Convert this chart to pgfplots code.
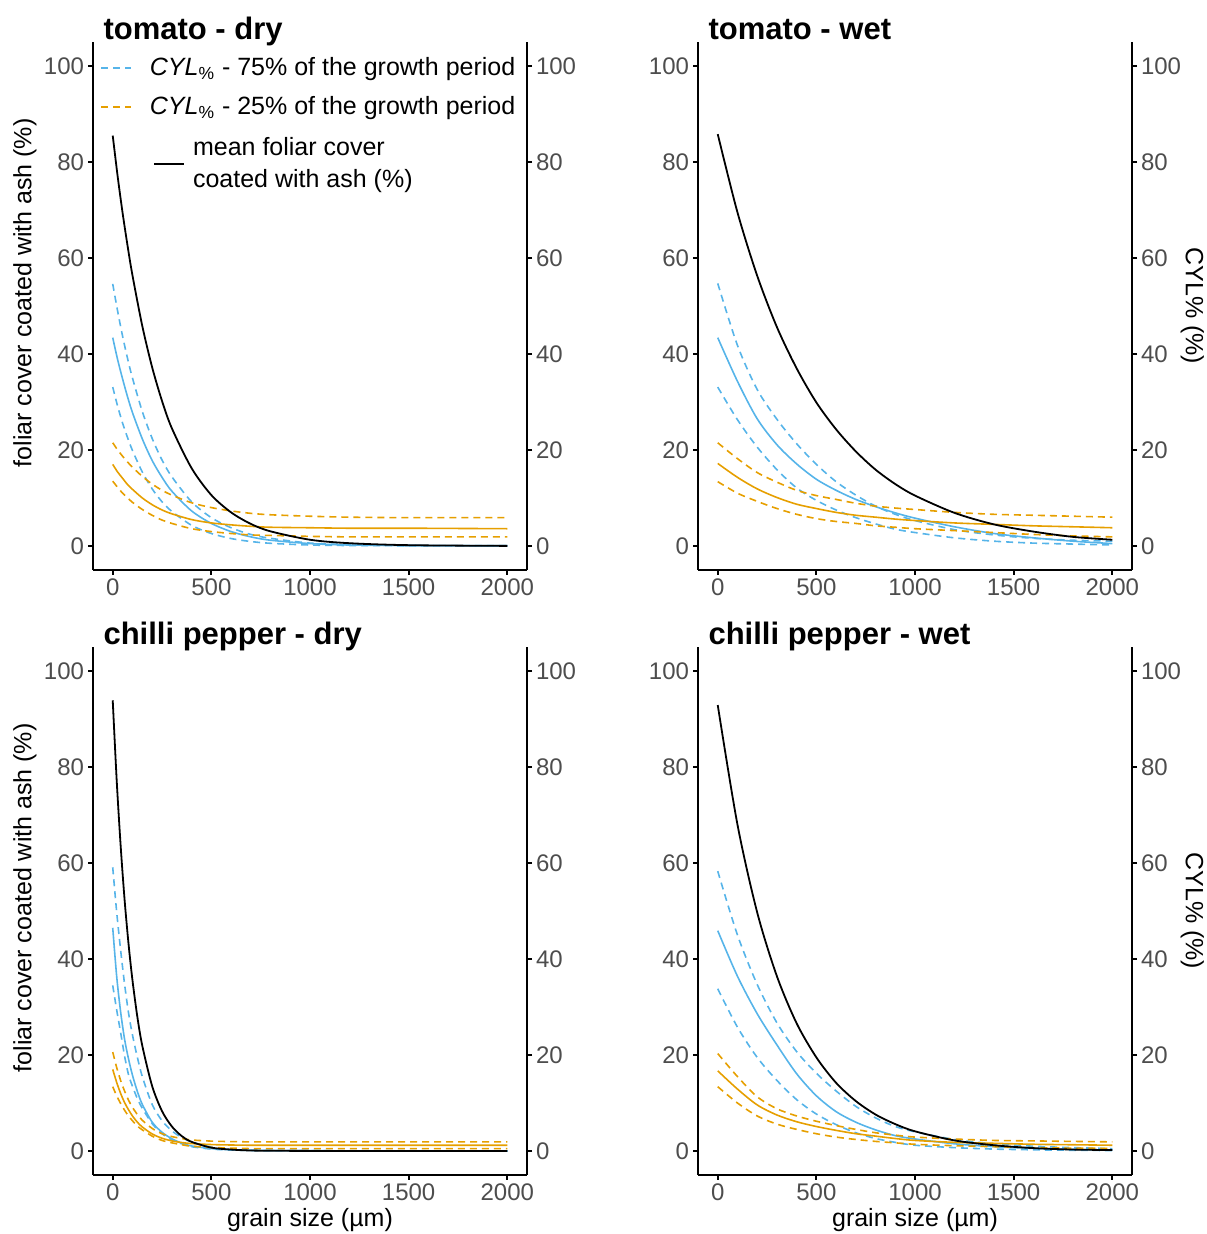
\documentclass[border=0pt]{standalone}
\usepackage{pgfplots}
\usepackage{pgfplotstable}
\pgfplotsset{compat=1.18}
\usepackage{fontspec}
\setmainfont{Liberation Sans}

\definecolor{skyblue}{HTML}{56B4E9}
\definecolor{ochre}{HTML}{E69F00}
\definecolor{tickgray}{HTML}{4D4D4D}

% columns: mean foliar cover, CYL 75% (mid, hi, lo), CYL 25% (mid, hi, lo)
\pgfplotstableread{
x    mean  m75   h75   l75   m25   h25   l25
0    85.5  43.4  54.6  33.1  17.0  21.5  13.5
25   77.0  38.8  48.9  29.1  15.4  20.0  12.2
50   69.4  34.8  43.7  25.6  14.1  18.7  11.0
75   62.6  31.1  39.1  22.6  12.8  17.5  10.0
100  56.4  27.8  35.0  19.9  11.8  16.4  9.1
150  45.8  22.3  28.0  15.4  10.0  14.5  7.6
200  37.2  17.8  22.4  11.9  8.6   12.9  6.4
250  30.2  14.3  17.9  9.2   7.5   11.6  5.4
300  24.5  11.4  14.4  7.2   6.7   10.6  4.7
400  16.2  7.3   9.2   4.3   5.5   9.0   3.6
500  10.6  4.7   5.9   2.6   4.8   8.0   3.0
600  7.0   3.0   3.8   1.55  4.4   7.3   2.6
700  4.6   1.9   2.4   0.93  4.1   6.8   2.3
800  3.05  1.2   1.6   0.56  3.9   6.5   2.2
1000 1.3   0.5   0.6   0.2   3.8   6.2   2.0
1200 0.58  0.2   0.3   0.1   3.7   6.0   1.9
1500 0.17  0.1   0.1   0.05  3.7   5.9   1.9
2000 0.02  0.05  0.05  0.02  3.6   5.9   1.9
}\tomatodry

\pgfplotstableread{
x    mean  m75   h75   l75   m25   h25   l25
0    85.8  43.4  54.7  33.1  17.2  21.5  13.4
100  69.5  34.3  41.8  26.3  14.3  18.2  11.0
200  56.3  26.5  32.6  20.6  11.9  15.3  9.3
300  45.6  21.1  26.4  15.9  10.1  13.3  7.8
400  37.0  17.1  21.3  12.1  8.7   11.6  6.6
500  29.9  13.9  17.0  9.5   7.8   10.5  5.7
600  24.3  11.6  13.4  7.5   7.0   9.7   5.1
700  19.7  9.7   10.6  5.9   6.4   8.9   4.7
800  15.9  8.2   8.3   4.6   6.0   8.3   4.2
900  12.9  6.9   6.6   3.5   5.6   7.9   3.9
1000 10.5  5.8   5.3   2.8   5.3   7.6   3.6
1200 6.9   4.0   3.4   1.7   4.8   7.0   3.2
1400 4.5   2.6   2.3   1.0   4.5   6.6   2.8
1600 3.0   1.7   1.6   0.6   4.2   6.4   2.4
1800 1.9   1.0   1.2   0.4   4.0   6.2   2.1
2000 1.3   0.5   1.0   0.2   3.8   6.0   1.9
}\tomatowet

\pgfplotstableread{
x    mean  m75   h75   l75   m25   h25   l25
0    93.9  46.5  59.1  34.5  17.0  20.6  13.4
20   77.3  36.4  49.8  29.4  14.3  17.4  11.5
40   63.7  29.0  41.9  24.7  12.0  14.7  9.9
60   52.4  23.3  34.8  19.8  10.1  12.5  8.5
80   43.2  19.2  28.8  15.9  8.6   10.6  7.3
100  35.6  15.8  24.2  13.5  7.3   9.1   6.3
125  27.9  12.4  19.5  10.9  6.0   7.6   5.2
150  21.9  9.7   15.5  8.9   5.0   6.4   4.4
200  13.5  6.0   9.7   5.7   3.55  4.7   3.1
250  8.3   3.9   6.3   3.6   2.66  3.6   2.2
300  5.1   2.55  4.2   2.3   2.1   3.0   1.7
350  3.1   1.64  2.8   1.5   1.76  2.6   1.3
400  1.9   1.05  1.9   0.9   1.55  2.3   1.0
500  0.7   0.5   0.8   0.4   1.34  2.06  0.74
600  0.3   0.25  0.4   0.2   1.25  1.96  0.6
700  0.1   0.15  0.2   0.1   1.2   1.9   0.5
800  0.05  0.1   0.15  0.08  1.2   1.9   0.5
1000 0.02  0.05  0.1   0.05  1.2   1.9   0.5
1500 0     0.02  0.05  0.02  1.2   1.9   0.5
2000 0     0     0     0     1.2   1.9   0.5
}\chillidry

\pgfplotstableread{
x    mean  m75   h75   l75   m25   h25   l25
0    92.9  45.9  58.3  33.8  16.7  20.3  13.4
100  68.0  36.4  45.0  25.8  12.9  15.5  10.0
200  49.7  28.6  34.7  19.5  9.6   11.3  7.3
300  36.4  22.1  26.7  14.7  7.5   8.8   5.6
400  26.6  16.1  20.7  10.7  6.1   7.3   4.5
500  19.5  11.5  16.2  7.7   5.1   6.2   3.6
600  14.2  8.2   12.5  5.5   4.3   5.3   2.9
700  10.4  6.0   9.3   3.8   3.6   4.5   2.4
800  7.6   4.4   6.9   2.6   3.1   3.8   2.0
900  5.6   3.2   5.1   1.8   2.6   3.3   1.7
1000 4.1   2.5   4.0   1.2   2.2   2.9   1.4
1200 2.2   1.5   2.4   0.7   1.8   2.5   1.1
1400 1.2   0.9   1.5   0.4   1.6   2.2   0.9
1600 0.6   0.55  1.0   0.25  1.4   2.1   0.7
1800 0.3   0.33  0.7   0.15  1.3   2.0   0.6
2000 0.2   0.2   0.5   0.1   1.2   1.9   0.55
}\chilliwet

\pgfplotsset{
  panel/.style={
    scale only axis, width=217pt, height=264pt,
    xmin=-100, xmax=2100, ymin=-5, ymax=105,
    axis x line*=bottom, axis y line*=left,
    xtick={0,500,1000,1500,2000}, ytick={0,20,40,60,80,100},
    tick align=outside, major tick length=2.5pt,
    every tick/.style={black, line width=0.9pt},
    axis line style={black, line width=0.9pt},
    ticklabel style={font=\fontsize{12}{14}\selectfont, text=tickgray, inner sep=1.8pt},
    /pgf/number format/assume math mode=true,
    /pgf/number format/1000 sep={},
    every axis title/.style={at={(0.008,1)}, anchor=base west, yshift=1pt,
      font=\fontsize{15.5}{18}\selectfont\bfseries},
    every axis y label/.style={at={(-0.157,0.525)}, rotate=90, anchor=center,
      font=\fontsize{12.5}{15}\selectfont},
    every axis x label/.style={at={(0.5,-0.085)}, anchor=center,
      font=\fontsize{12.5}{15}\selectfont},
  },
  rightax/.style={
    scale only axis, width=217pt, height=264pt,
    xmin=-100, xmax=2100, ymin=-5, ymax=105,
    axis x line=none, axis y line*=right,
    ytick={0,20,40,60,80,100},
    tick align=outside, major tick length=2.5pt,
    every tick/.style={black, line width=0.9pt},
    axis line style={black, line width=0.9pt},
    ticklabel style={font=\fontsize{12}{14}\selectfont, text=tickgray, inner sep=1.8pt},
    /pgf/number format/assume math mode=true,
    every axis y label/.style={at={(1.139,0.5)}, rotate=-90, anchor=center,
      font=\fontsize{12.5}{15}\selectfont},
  },
  bdash/.style={skyblue, line width=0.8pt, dash pattern=on 3.5pt off 2.5pt},
  bsolid/.style={skyblue, line width=0.8pt},
  odash/.style={ochre, line width=0.8pt, dash pattern=on 3.5pt off 2.5pt},
  osolid/.style={ochre, line width=0.8pt},
  meanline/.style={black, line width=0.9pt},
}

\newcommand{\curves}[1]{%
  \addplot[bdash, smooth, forget plot] table[x=x, y=h75] {#1};
  \addplot[bdash, smooth, forget plot] table[x=x, y=l75] {#1};
  \addplot[bsolid, smooth, forget plot] table[x=x, y=m75] {#1};
  \addplot[odash, smooth, forget plot] table[x=x, y=h25] {#1};
  \addplot[odash, smooth, forget plot] table[x=x, y=l25] {#1};
  \addplot[osolid, smooth, forget plot] table[x=x, y=m25] {#1};
  \addplot[meanline, smooth, forget plot] table[x=x, y=mean] {#1};
}

\begin{document}
\begin{tikzpicture}
\useasboundingbox (0,0) rectangle (603pt,617pt);

% tomato - dry
\begin{axis}[panel, at={(46.5pt,332pt)}, anchor=south west,
  title={tomato - dry}, ylabel={foliar cover coated with ash (\%)},
  legend style={at={(0.016,0.979)}, anchor=north west, draw=none, fill=none,
    inner sep=0pt, font=\fontsize{12.5}{15}\selectfont, row sep=5pt,
    /tikz/every odd column/.append style={column sep=7pt}},
  legend cell align=left,
  legend image code/.code={\draw[#1] (0pt,0pt) -- (15pt,0pt);}]
\addlegendimage{bdash}
\addlegendentry{\textit{CYL}\textsubscript{\%} - 75\% of the growth period}
\addlegendimage{odash}
\addlegendentry{\textit{CYL}\textsubscript{\%} - 25\% of the growth period}
\curves{\tomatodry}
\end{axis}
\begin{axis}[rightax, at={(46.5pt,332pt)}, anchor=south west,
  legend style={at={(0.138,0.769)}, anchor=west, draw=none, fill=none,
    inner sep=0pt, font=\fontsize{12.5}{16}\selectfont, cells={align=left},
    /tikz/every odd column/.append style={column sep=2pt}},
  legend cell align=left,
  legend image code/.code={\draw[#1] (0pt,0pt) -- (15pt,0pt);}]
\addlegendimage{meanline}
\addlegendentry{mean foliar cover\\coated with ash (\%)}
\end{axis}

% tomato - wet
\begin{axis}[panel, at={(349pt,332pt)}, anchor=south west, title={tomato - wet}]
\curves{\tomatowet}
\end{axis}
\begin{axis}[rightax, at={(349pt,332pt)}, anchor=south west, ylabel={CYL\% (\%)}]
\end{axis}

% chilli pepper - dry
\begin{axis}[panel, at={(46.5pt,29.5pt)}, anchor=south west,
  title={chilli pepper - dry}, ylabel={foliar cover coated with ash (\%)},
  xlabel={grain size (µm)}]
\curves{\chillidry}
\end{axis}
\begin{axis}[rightax, at={(46.5pt,29.5pt)}, anchor=south west]
\end{axis}

% chilli pepper - wet
\begin{axis}[panel, at={(349pt,29.5pt)}, anchor=south west,
  title={chilli pepper - wet}, xlabel={grain size (µm)}]
\curves{\chilliwet}
\end{axis}
\begin{axis}[rightax, at={(349pt,29.5pt)}, anchor=south west, ylabel={CYL\% (\%)}]
\end{axis}
\end{tikzpicture}
\end{document}
